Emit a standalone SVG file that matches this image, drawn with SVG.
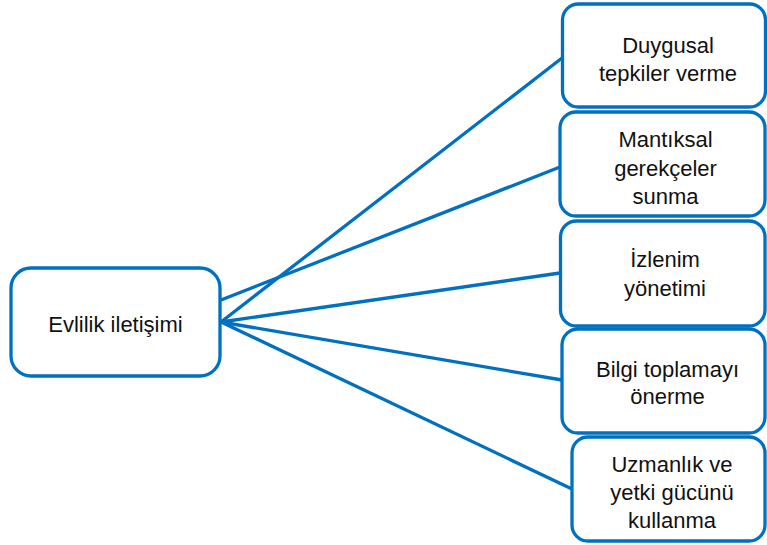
<svg xmlns="http://www.w3.org/2000/svg" width="767" height="545" viewBox="0 0 767 545">
<style>
.box{fill:#fff;stroke:#0070C0;stroke-width:3.3}
.lbl{font-family:"Liberation Sans",Arial,sans-serif;font-size:22px;fill:#111;text-anchor:middle}
.con{stroke:#0070C0;stroke-width:3.3;fill:none}
</style>
<rect width="767" height="545" fill="#fff"/>
<g id="connectors">
<line class="con" x1="221" y1="322" x2="562" y2="58"/>
<line class="con" x1="221" y1="300" x2="560" y2="167"/>
<line class="con" x1="221" y1="322" x2="560" y2="273"/>
<line class="con" x1="221" y1="322" x2="562" y2="380"/>
<line class="con" x1="221" y1="322" x2="572" y2="489"/>
</g>
<g id="n0">
<rect class="box" x="11" y="268" width="209" height="108" rx="20"/>
<text class="lbl" x="115.5" y="332">Evlilik iletişimi</text>
</g>
<g id="n1">
<rect class="box" x="562.5" y="4" width="203" height="103" rx="16"/>
<text class="lbl" x="668" y="53">Duygusal</text>
<text class="lbl" x="668" y="81">tepkiler verme</text>
</g>
<g id="n2">
<rect class="box" x="560" y="112" width="205" height="104" rx="16"/>
<text class="lbl" x="665.5" y="147">Mantıksal</text>
<text class="lbl" x="665.5" y="176">gerekçeler</text>
<text class="lbl" x="665.5" y="204">sunma</text>
</g>
<g id="n3">
<rect class="box" x="560.5" y="221" width="204.5" height="105" rx="16"/>
<text class="lbl" x="665" y="267">İzlenim</text>
<text class="lbl" x="665" y="296">yönetimi</text>
</g>
<g id="n4">
<rect class="box" x="562" y="329" width="203" height="104" rx="16"/>
<text class="lbl" x="667.5" y="377">Bilgi toplamayı</text>
<text class="lbl" x="667.5" y="404">önerme</text>
</g>
<g id="n5">
<rect class="box" x="572" y="437" width="193" height="104" rx="16"/>
<text class="lbl" x="672" y="472">Uzmanlık ve</text>
<text class="lbl" x="672" y="500">yetki gücünü</text>
<text class="lbl" x="672" y="528">kullanma</text>
</g>
</svg>
